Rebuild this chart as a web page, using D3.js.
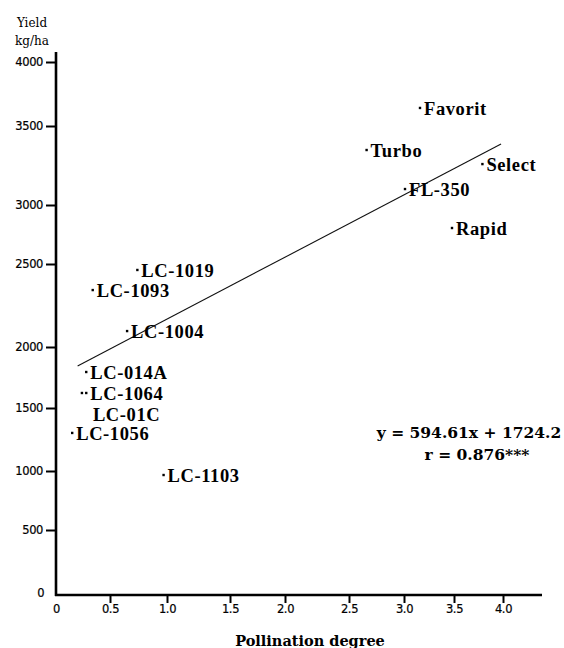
<!DOCTYPE html>
<html>
<head>
<meta charset="utf-8">
<script src="https://cdn.jsdelivr.net/npm/d3@7"></script>
<style>
  html, body { margin: 0; padding: 0; background: #fff; }
  svg { display: block; }
</style>
</head>
<body>
<script>
// ---- data ----
const cultivars = ["LC-1019","LC-1093","LC-1004","LC-014A","LC-1064","LC-01C","LC-1056","LC-1103",
                   "Favorit","Turbo","Select","FL-350","Rapid"];
const pollination = [0.74, 0.34, 0.65, 0.28, 0.28, 0.24, 0.15, 0.97,
                     3.16, 2.66, 3.79, 3.01, 3.48];
const yieldKg = [2464, 2343, 2096, 1795, 1623, 1623, 1302, 966,
                 3641, 3348, 3259, 3101, 2805];
const fitX = [0.20, 3.98];
const fitY = [1845, 3386];
const xTicks = [0, 0.5, 1, 1.5, 2, 2.5, 3, 3.5, 4];
const xTickLabels = ["0","0.5","1.0","1.5","2.0","2.5","3.0","3.5","4.0"];
const yTicks = [0, 500, 1000, 1500, 2000, 2500, 3000, 3500, 4000];
const yTickLabels = ["0","500","1000","1500","2000","2500","3000","3500","4000"];
const equationText = "y = 594.61x + 1724.2";
const rText = "r = 0.876***";

// ---- layout ----
const W = 564, H = 648;
const svg = d3.select("body").append("svg").attr("width", W).attr("height", H);

// The original axes are hand-drawn with uneven spacing: piecewise-linear scales
const x = d3.scaleLinear().domain(xTicks).range([56,110,167,230,285,349,404,454,503]);
const y = d3.scaleLinear().domain(yTicks).range([595,530,471,408,347,264,205,126,62]);

const axisX0 = 56, axisY0 = 595;
const sans = "DejaVu Sans, Verdana, sans-serif";

// Y axis
const gy = svg.append("g").attr("transform", `translate(${axisX0},0)`)
  .call(d3.axisLeft(y).tickValues(yTicks.slice(1))
        .tickFormat((d) => yTickLabels[yTicks.indexOf(d)])
        .tickSize(10).tickPadding(3).tickSizeOuter(0));
gy.select(".domain").remove();
gy.selectAll(".tick line").attr("stroke", "#000").attr("stroke-width", 2);
gy.selectAll(".tick text").attr("font-family", sans)
  .attr("font-size", 11.5).attr("fill", "#000").attr("letter-spacing", -0.4)
  .attr("stroke", "#000").attr("stroke-width", 0.2);

// X axis
const gx = svg.append("g").attr("transform", `translate(0,${axisY0})`)
  .call(d3.axisBottom(x).tickValues(xTicks)
        .tickFormat((d) => xTickLabels[xTicks.indexOf(d)])
        .tickSize(8).tickPadding(2).tickSizeOuter(0));
gx.select(".domain").remove();
gx.selectAll(".tick line").attr("stroke", "#000").attr("stroke-width", 2)
  .attr("display", (d) => d === 0 ? "none" : null);
gx.selectAll(".tick text").attr("font-family", sans)
  .attr("font-size", 11.5).attr("fill", "#000").attr("letter-spacing", -0.4)
  .attr("stroke", "#000").attr("stroke-width", 0.2);

// "0" on the y axis
svg.append("text").attr("x", 41).attr("y", 597).attr("text-anchor", "middle")
  .attr("font-family", sans).attr("font-size", 11.5)
  .attr("stroke", "#000").attr("stroke-width", 0.2)
  .text(yTickLabels[0]);

// axis lines
svg.append("line").attr("x1", axisX0).attr("x2", axisX0).attr("y1", 52).attr("y2", axisY0 + 1)
  .attr("stroke", "#000").attr("stroke-width", 2.6);
svg.append("line").attr("x1", axisX0 - 1).attr("x2", 542).attr("y1", axisY0).attr("y2", axisY0)
  .attr("stroke", "#000").attr("stroke-width", 2.6);

// axis titles
const serif = "DejaVu Serif, Georgia, serif";
svg.append("text").attr("x", 32).attr("y", 27).attr("text-anchor", "middle")
  .attr("font-family", serif).attr("font-size", 12).text("Yield");
svg.append("text").attr("x", 32).attr("y", 45).attr("text-anchor", "middle")
  .attr("font-family", serif).attr("font-size", 12).text("kg/ha");
svg.append("text").attr("x", 310).attr("y", 646).attr("text-anchor", "middle")
  .attr("font-family", serif).attr("font-weight", "bold").attr("font-size", 14.5)
  .text("Pollination degree");

// regression line
svg.append("line")
  .attr("x1", x(fitX[0])).attr("y1", y(fitY[0]))
  .attr("x2", x(fitX[1])).attr("y2", y(fitY[1]))
  .attr("stroke", "#111").attr("stroke-width", 1.1);

// points
const pts = cultivars.map((c, i) => ({ name: c, px: pollination[i], py: yieldKg[i] }));
svg.append("g").selectAll("rect").data(pts).join("rect")
  .attr("x", (d) => x(d.px) - 1.2).attr("y", (d) => y(d.py) - 1.2)
  .attr("width", 2.4).attr("height", 2.4).attr("fill", "#000");

// labels (LC-01C's label sits below its dot in the original)
const labelNudge = { "LC-01C": [11, 21] };
svg.append("g").selectAll("text").data(pts).join("text")
  .attr("x", (d) => x(d.px) + (labelNudge[d.name] ? labelNudge[d.name][0] : 4))
  .attr("y", (d) => y(d.py) + (labelNudge[d.name] ? labelNudge[d.name][1] : 0))
  .attr("dy", "0.36em")
  .attr("font-family", "Liberation Serif, Times New Roman, serif")
  .attr("font-weight", "bold").attr("font-size", 18.5).attr("letter-spacing", 0.6)
  .text((d) => d.name);

// equation
svg.append("text").attr("x", 469).attr("y", 438).attr("text-anchor", "middle")
  .attr("font-family", serif).attr("font-weight", "bold").attr("font-size", 15.5)
  .text(equationText);
svg.append("text").attr("x", 477).attr("y", 460).attr("text-anchor", "middle")
  .attr("font-family", serif).attr("font-weight", "bold").attr("font-size", 15.5)
  .text(rText);
</script>
</body>
</html>
